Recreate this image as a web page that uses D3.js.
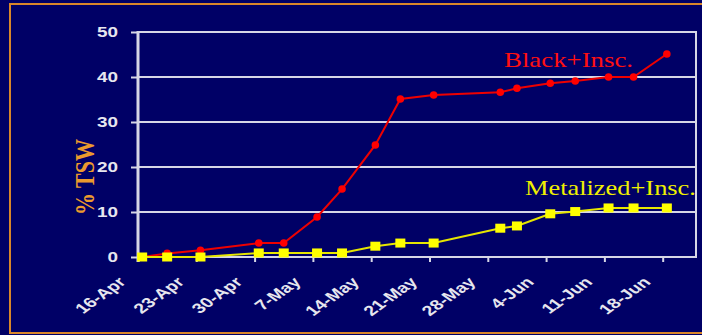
<!DOCTYPE html>
<html>
<head>
<meta charset="utf-8">
<script src="https://cdn.jsdelivr.net/npm/d3@7"></script>
<style>
  html, body { margin: 0; padding: 0; background: #000066; }
  svg { display: block; }
</style>
</head>
<body>
<svg id="chart" width="702" height="335"></svg>
<script>
// Sampling dates (day-month) and % TSW for the two treatments
const sampleDates = ["16-Apr","19-Apr","23-Apr","30-Apr","3-May","7-May","10-May","14-May","17-May",
                     "21-May","29-May","31-May","4-Jun","7-Jun","11-Jun","14-Jun","18-Jun"];
const blackInsc = [0, 0.8, 1.5, 3.1, 3.1, 8.9, 15.1, 24.9, 35.1, 36.0, 36.6, 37.5, 38.6, 39.1, 40.0, 40.0, 45.1];
const metalInsc = [0, 0, 0, 0.9, 0.9, 0.9, 0.9, 2.4, 3.1, 3.1, 6.4, 6.9, 9.6, 10.1, 10.9, 10.9, 10.9];
const xTickLabels = ["16-Apr","23-Apr","30-Apr","7-May","14-May","21-May","28-May","4-Jun","11-Jun","18-Jun"];
const yTickValues = [0, 10, 20, 30, 40, 50];
const seriesNames = ["Black+Insc.", "Metalized+Insc."];
const yTitle = "% TSW";
const axisEnd = "22-Jun";

const parse = d3.timeParse("%d-%b-%Y");
const toDate = s => parse(s + "-2003");

const svg = d3.select("#chart");
const W = 702, H = 335;

// background and orange frame
svg.append("rect").attr("width", W).attr("height", H).attr("fill", "#000066");
svg.append("rect").attr("x", 10).attr("y", 4).attr("width", 720).attr("height", 329)
  .attr("fill", "none").attr("stroke", "#d9862a").attr("stroke-width", 2);

const plot = { left: 138, right: 696, top: 32, bottom: 257 };

const x = d3.scaleTime()
  .domain([toDate(xTickLabels[0]), toDate(axisEnd)])
  .range([plot.left, plot.right]);
const y = d3.scaleLinear().domain([0, 50]).range([plot.bottom, plot.top]);

// points sit in the middle of their day
const xc = s => x(d3.timeHour.offset(toDate(s), 12));

const gridColor = "#d6d6e6";
const labelColor = "#e6e6ee";
const sx = 1.35; // wide lettering

// horizontal gridlines + left ticks
const yAxis = d3.axisLeft(y).tickValues(yTickValues).tickSize(7).tickFormat("");
const gy = svg.append("g").attr("transform", `translate(${plot.left},0)`).call(yAxis);
gy.select(".domain").remove();
gy.selectAll(".tick line").attr("stroke", gridColor).attr("stroke-width", 2);
svg.append("g").selectAll("line").data(yTickValues).join("line")
  .attr("x1", plot.left).attr("x2", plot.right)
  .attr("y1", d => y(d)).attr("y2", d => y(d))
  .attr("stroke", gridColor).attr("stroke-width", 2);

// right frame of plot
svg.append("line").attr("x1", plot.right).attr("x2", plot.right)
  .attr("y1", plot.top - 1).attr("y2", plot.bottom + 1)
  .attr("stroke", gridColor).attr("stroke-width", 2);

// y tick labels
svg.append("g").selectAll("text").data(yTickValues).join("text")
  .attr("transform", d => `translate(118,${y(d)}) scale(${sx},1)`)
  .attr("dy", "0.36em")
  .attr("text-anchor", "end")
  .attr("font-family", "Arial, 'Liberation Sans', sans-serif")
  .attr("font-weight", "bold").attr("font-size", 14)
  .attr("fill", labelColor)
  .text(d => d);

// x axis ticks
const xTicks = xTickLabels.map(toDate);
const xAxis = d3.axisBottom(x).tickValues(xTicks).tickSize(5).tickFormat("");
const gx = svg.append("g").attr("transform", `translate(0,${plot.bottom})`).call(xAxis);
gx.select(".domain").remove();
gx.selectAll(".tick line").attr("stroke", gridColor).attr("stroke-width", 2);

// x tick labels, slanted
svg.append("g").selectAll("text").data(xTickLabels).join("text")
  .attr("transform", d => `translate(${x(toDate(d)) - 11},${plot.bottom + 26}) scale(1.4,1) rotate(-45)`)
  .attr("text-anchor", "end")
  .attr("font-family", "Arial, 'Liberation Sans', sans-serif")
  .attr("font-weight", "bold").attr("font-size", 14)
  .attr("fill", labelColor)
  .text(d => d);

// left axis line
svg.append("line").attr("x1", plot.left).attr("x2", plot.left)
  .attr("y1", plot.top - 1).attr("y2", plot.bottom + 5)
  .attr("stroke", gridColor).attr("stroke-width", 3);

// y title
svg.append("text")
  .attr("transform", `translate(94,177) scale(1.2,1) rotate(-90)`)
  .attr("text-anchor", "middle")
  .attr("font-family", "'Times New Roman', 'Liberation Serif', serif")
  .attr("font-weight", "bold").attr("font-size", 22)
  .attr("fill", "#eb9a2e")
  .text(yTitle);

const line = d3.line().x((d, i) => xc(sampleDates[i])).y(d => y(d));

// Black + insecticide
svg.append("path").datum(blackInsc).attr("d", line)
  .attr("fill", "none").attr("stroke", "#ee0000").attr("stroke-width", 2);
svg.append("g").selectAll("path").data(blackInsc).join("path")
  .attr("transform", (d, i) => `translate(${xc(sampleDates[i])},${y(d)})`)
  .attr("d", d3.symbol(d3.symbolCircle, 45))
  .attr("fill", "#ff0000");

// Metalized + insecticide
svg.append("path").datum(metalInsc).attr("d", line)
  .attr("fill", "none").attr("stroke", "#e6e600").attr("stroke-width", 2);
svg.append("g").selectAll("rect").data(metalInsc).join("rect")
  .attr("x", (d, i) => xc(sampleDates[i]) - 5)
  .attr("y", d => y(d) - 4.5)
  .attr("width", 10).attr("height", 9)
  .attr("fill", "#ffff00");

// series labels
const serif = "'Times New Roman', 'Liberation Serif', serif";
svg.append("text")
  .attr("transform", `translate(504,67) scale(1.22,1)`)
  .attr("font-family", serif).attr("font-size", 22)
  .attr("fill", "#ff1010")
  .text(seriesNames[0]);
svg.append("text")
  .attr("transform", `translate(525,195) scale(1.2,1)`)
  .attr("font-family", serif).attr("font-size", 22)
  .attr("fill", "#f0f000")
  .text(seriesNames[1]);
</script>
</body>
</html>
